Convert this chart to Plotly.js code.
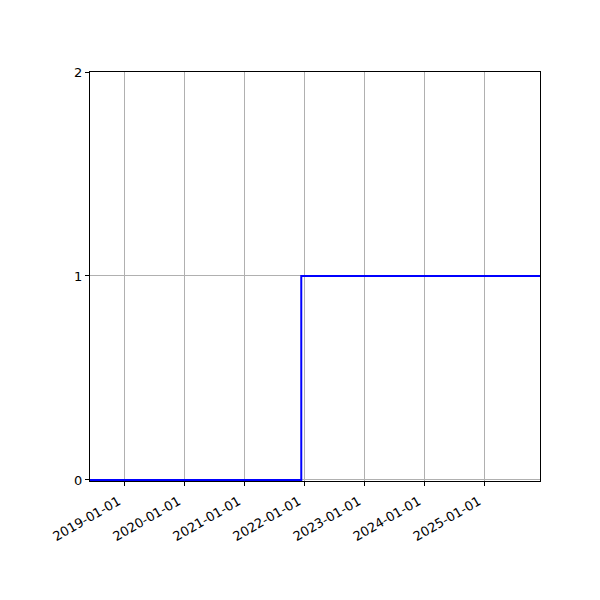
<!DOCTYPE html>
<html>
<head>
<meta charset="utf-8">
<script src="https://cdn.plot.ly/plotly-3.0.1.min.js"></script>
<style>
  html, body { margin: 0; padding: 0; background: #fff; }
  #chart { width: 600px; height: 600px; }
</style>
</head>
<body>
<div id="chart"></div>
<script>
// step series (value held until the next date)
var stepDates = ['2018-06-06', '2021-12-12', '2025-12-03'];
var stepValues = [0, 1, 1];

var tickDates = ['2019-01-01', '2020-01-01', '2021-01-01', '2022-01-01',
                 '2023-01-01', '2024-01-01', '2025-01-01'];
var yTicks = [0, 1, 2];

var trace = {
    x: stepDates,
    y: stepValues,
    type: 'scatter',
    mode: 'lines',
    line: { color: '#0000ff', width: 2, shape: 'hv' },
    hoverinfo: 'x+y'
};

var layout = {
    width: 600,
    height: 600,
    margin: { l: 90, r: 60, t: 72, b: 119 },
    paper_bgcolor: '#fff',
    plot_bgcolor: '#fff',
    showlegend: false,
    font: { family: 'DejaVu Sans, sans-serif', size: 13, color: '#000' },
    xaxis: {
        type: 'date',
        range: [stepDates[0], stepDates[stepDates.length - 1]],
        tickmode: 'array',
        tickvals: tickDates,
        ticktext: tickDates,
        tickangle: -30,
        ticklabelshift: -6,
        ticklabelstandoff: 3,
        ticks: 'outside',
        ticklen: 4,
        tickwidth: 1,
        tickcolor: '#000',
        showgrid: true,
        gridcolor: '#b0b0b0',
        gridwidth: 1,
        showline: true,
        linecolor: '#000',
        linewidth: 1,
        mirror: true,
        zeroline: false,
        layer: 'below traces'
    },
    yaxis: {
        // tiny margin below 0 so the blue line at 0 is not clipped by the frame
        range: [-0.005, 2],
        tickmode: 'array',
        tickvals: yTicks,
        ticktext: yTicks.map(String),
        ticks: 'outside',
        ticklen: 4,
        tickwidth: 1,
        tickcolor: '#000',
        showgrid: true,
        gridcolor: '#b0b0b0',
        gridwidth: 1,
        showline: true,
        linecolor: '#000',
        linewidth: 1,
        mirror: true,
        zeroline: false,
        layer: 'below traces'
    }
};

Plotly.newPlot('chart', [trace], layout, { displayModeBar: false, staticPlot: true });
</script>
</body>
</html>
